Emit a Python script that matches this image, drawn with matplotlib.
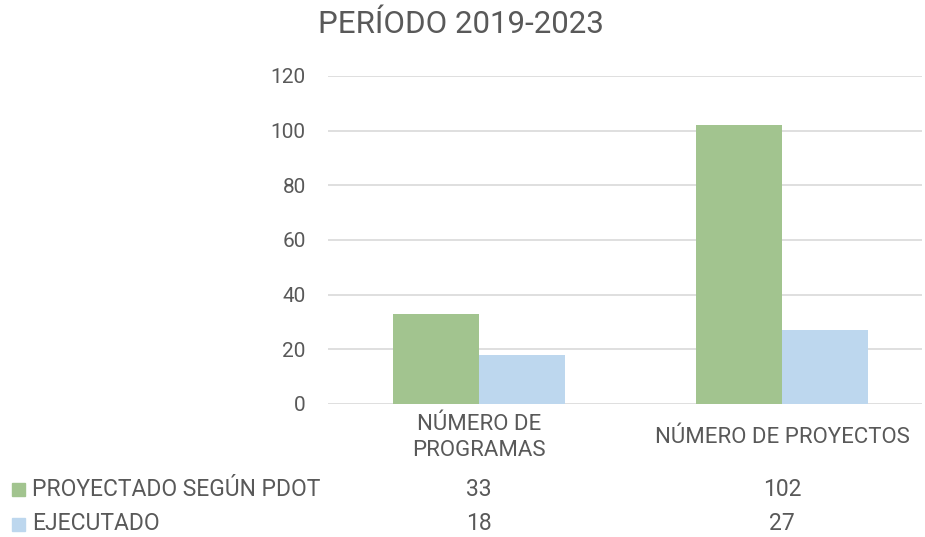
import matplotlib
matplotlib.use("Agg")
from matplotlib import pyplot as plt
from matplotlib.patches import Rectangle
from matplotlib.transforms import blended_transform_factory
import numpy as np

plt.rcParams['font.family'] = ['Roboto', 'DejaVu Sans']

# datos
categorias = ["NÚMERO DE\nPROGRAMAS", "NÚMERO DE PROYECTOS"]
series = ["PROYECTADO SEGÚN PDOT", "EJECUTADO"]
proyectado = [33, 102]
ejecutado = [18, 27]
colores = ["#A2C48F", "#BDD7EE"]
gris = "#595959"

fig = plt.figure(figsize=(9.25, 5.37), dpi=100)
ax = fig.add_axes([0.3546, 0.2477, 0.997 - 0.3546, 0.8585 - 0.2477])

x = np.arange(len(categorias))
w = 0.284
ax.bar(x - w / 2, proyectado, w, color=colores[0], zorder=3)
ax.bar(x + w / 2, ejecutado, w, color=colores[1], zorder=3)

ax.set_xlim(-0.498, 1.462)
ax.set_ylim(0, 120)
ax.set_yticks(range(0, 121, 20))
ax.grid(axis='y', color='#D9D9D9', linewidth=1.2, zorder=0)
for s in ax.spines.values():
    s.set_visible(False)
ax.tick_params(axis='y', length=0, pad=16, labelsize=15, labelcolor=gris)
ax.set_xticks(x)
ax.set_xticklabels(categorias, fontsize=16, color=gris, linespacing=1.3)
for lab in ax.get_xticklabels():
    lab.set_va('center')
ax.tick_params(axis='x', length=0, pad=24)

fig.text(0.498, 0.955, "PERÍODO 2019-2023", ha='center', va='center', fontsize=22.5, color=gris)

# tabla de datos
trans = blended_transform_factory(ax.transData, fig.transFigure)
filas_y = [1 - 489 / 537, 1 - 524 / 537]
for nombre, vals, col, fy in zip(series, [proyectado, ejecutado], colores, filas_y):
    fig.patches.append(Rectangle((12 / 925, fy - 6.5 / 537), 13 / 925, 13 / 537,
                                 transform=fig.transFigure, color=col))
    fig.text(32 / 925, fy, nombre, ha='left', va='center', fontsize=16.5, color=gris)
    for xi, v in zip(x, vals):
        ax.text(xi, fy, str(v), transform=trans, ha='center', va='center',
                fontsize=16.5, color=gris)

plt.savefig('out.png', dpi=100)
